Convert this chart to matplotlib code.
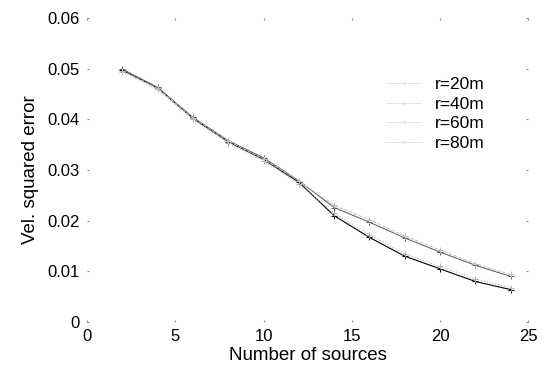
import matplotlib
matplotlib.use('Agg')
import matplotlib.pyplot as plt
from matplotlib.lines import Line2D

plt.rcParams['font.family'] = ['Liberation Sans', 'DejaVu Sans']

sources = [2, 4, 6, 8, 10, 12, 14, 16, 18, 20, 22, 24]
err_r20 = [0.0497, 0.0462, 0.0402, 0.0356, 0.0321, 0.0276, 0.0210, 0.0167, 0.0130, 0.0105, 0.0080, 0.0064]
err_r40 = [0.0494, 0.0459, 0.0400, 0.0353, 0.0318, 0.0273, 0.0215, 0.0172, 0.0135, 0.0110, 0.0085, 0.0068]
err_r60 = [0.0499, 0.0463, 0.0404, 0.0358, 0.0324, 0.0279, 0.0226, 0.0197, 0.0166, 0.0138, 0.0112, 0.0090]
err_r80 = [0.0496, 0.0461, 0.0403, 0.0357, 0.0322, 0.0278, 0.0230, 0.0202, 0.0170, 0.0142, 0.0115, 0.0094]

labels = ['r=20m', 'r=40m', 'r=60m', 'r=80m']
series = [err_r20, err_r40, err_r60, err_r80]
styles = [
  dict(color='black', ls='-', lw=0.8),
  dict(color='#b0b0b0', ls=':', lw=0.8),
  dict(color='#555555', ls='-', lw=0.7),
  dict(color='#c0c0c0', ls='--', lw=0.7),
]

fig = plt.figure(figsize=(5.44, 3.76), dpi=100)
ax = fig.add_axes([0.160, 0.1436, 0.811, 0.8085])

for ys, lab, st in zip(series, labels, styles):
  ax.plot(sources, ys, marker='+', ms=4, mew=0.7, label=lab, **st)

ax.set_xlim(0, 25)
ax.set_ylim(0, 0.06)
ax.set_xticks([0, 5, 10, 15, 20, 25])
ax.set_yticks([0, 0.01, 0.02, 0.03, 0.04, 0.05, 0.06])
ax.set_yticklabels(['0', '0.01', '0.02', '0.03', '0.04', '0.05', '0.06'])

for s in ax.spines.values():
  s.set_visible(False)
ax.tick_params(direction='in', length=1.5, width=0.8, color='#888888',
               top=True, right=True, labelsize=12, pad=5)

ax.set_xlabel('Number of sources', fontsize=13.5, labelpad=2)
ax.set_ylabel('Vel. squared error', fontsize=13.5, labelpad=6)

# legend samples are nearly washed out in the scan
handles = [Line2D([], [], color='#e0e0e0', lw=0.6, marker='.', ms=2) for _ in labels]
ax.legend(handles, labels, loc='upper right', bbox_to_anchor=(0.937, 0.857),
          frameon=False, fontsize=12.5, handlelength=2.0, labelspacing=0.25,
          handletextpad=0.8)

fig.savefig('out.png', dpi=100)
